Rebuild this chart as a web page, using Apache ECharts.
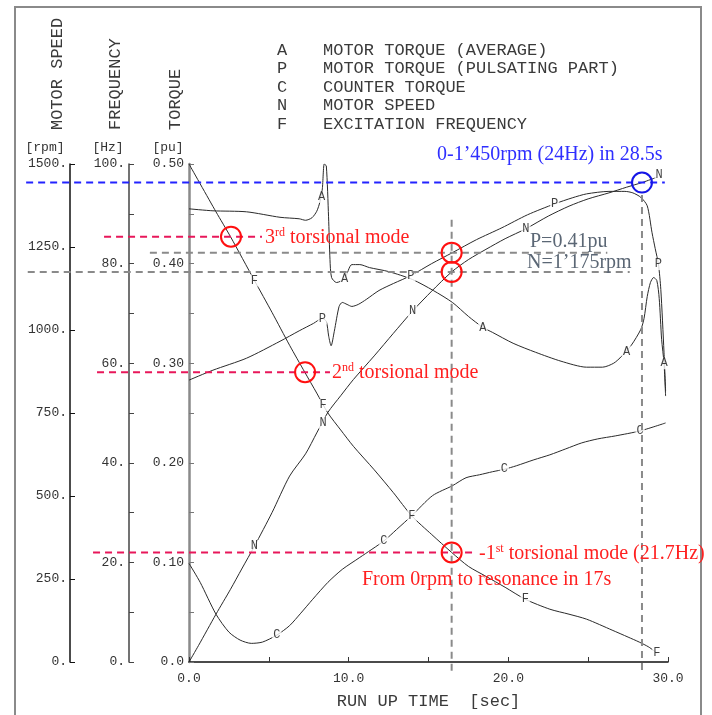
<!DOCTYPE html>
<html><head><meta charset="utf-8">
<script src="https://cdn.jsdelivr.net/npm/echarts@6/dist/echarts.min.js"></script>
<style>html,body{margin:0;padding:0;background:#fff}#c{width:712px;height:715px}</style>
</head><body><div id="c"></div>
<script>
// ---------------- data ----------------
// A: motor torque (average) [pu]
const aTime   = [0, 1.5, 3.6, 5.7, 6.9, 7.3, 7.7, 8.0, 8.2, 8.35, 8.47, 8.6, 8.74, 8.83, 8.93, 9.24, 9.75, 10.2, 10.7, 11.3, 12.5, 14.0, 15.3, 16.5, 17.5, 18.4, 19.0, 20.3, 21.7, 23.3, 24.9, 25.9, 26.6, 27.1, 27.7, 28.3, 28.5, 28.7, 28.9, 29.1, 29.3, 29.45, 29.6, 29.75, 29.85];
const aTorque = [0.455, 0.453, 0.452, 0.4465, 0.445, 0.4435, 0.446, 0.4525, 0.462, 0.475, 0.50, 0.498, 0.447, 0.404, 0.386, 0.381, 0.385, 0.399, 0.399, 0.396, 0.392, 0.384, 0.373, 0.361, 0.347, 0.336, 0.331, 0.320, 0.311, 0.302, 0.296, 0.296, 0.300, 0.307, 0.318, 0.334, 0.345, 0.367, 0.381, 0.386, 0.383, 0.365, 0.324, 0.300, 0.267];
// P: motor torque (pulsating part) [pu]
const pTime   = [0, 1.5, 3.6, 5.7, 6.9, 7.8, 8.35, 8.6, 8.75, 8.9, 9.1, 9.4, 9.6, 9.9, 10.2, 10.6, 11.1, 11.9, 12.8, 13.9, 15.2, 16.5, 18.0, 19.6, 21.2, 22.9, 24.0, 24.9, 26.3, 27.3, 27.8, 28.3, 28.7, 29.0, 29.2, 29.4, 29.55, 29.75, 29.85];
const pTorque = [0.283, 0.293, 0.305, 0.322, 0.3325, 0.340, 0.345, 0.342, 0.327, 0.3175, 0.332, 0.357, 0.361, 0.359, 0.357, 0.359, 0.364, 0.373, 0.380, 0.388, 0.400, 0.411, 0.424, 0.436, 0.449, 0.460, 0.466, 0.470, 0.4725, 0.4725, 0.471, 0.4665, 0.458, 0.431, 0.415, 0.3995, 0.374, 0.311, 0.272];
// C: counter torque [pu]
const cTime   = [0, 0.7, 1.69, 2.5, 3.2, 3.9, 4.6, 5.5, 6.3, 7.0, 7.75, 8.7, 9.6, 10.7, 12.2, 13.0, 13.96, 15.25, 16.5, 17.35, 18.2, 19.0, 19.75, 20.5, 21.6, 22.6, 23.6, 24.6, 25.6, 26.7, 28.25, 29.85];
const cTorque = [0.099, 0.080, 0.048, 0.030, 0.022, 0.0187, 0.020, 0.027, 0.0365, 0.049, 0.063, 0.080, 0.093, 0.105, 0.1215, 0.133, 0.147, 0.167, 0.177, 0.185, 0.188, 0.191, 0.1935, 0.197, 0.203, 0.208, 0.214, 0.220, 0.224, 0.227, 0.232, 0.240];
// N: motor speed [rpm]
const nTime   = [0, 0.6, 1.69, 2.6, 3.3, 4.1, 5.2, 6.3, 7.3, 8.0, 8.7, 9.5, 10.3, 11.6, 12.8, 14.0, 15.2, 16.45, 17.5, 18.6, 19.8, 21.1, 22.5, 23.8, 25.0, 26.3, 27.4, 28.37, 28.9, 29.3];
const nSpeed  = [0, 50, 144, 219, 280, 349, 450, 560, 627, 690, 752, 802, 851, 922, 990, 1057, 1117, 1175, 1212, 1243, 1275, 1305, 1343, 1373, 1395, 1413, 1430, 1444, 1453, 1460];
// F: excitation frequency [Hz]
const fTime   = [0, 1.69, 2.6, 4.1, 5.2, 6.3, 7.25, 8.0, 8.7, 9.5, 10.3, 11.6, 12.8, 13.96, 15.2, 16.45, 17.5, 18.6, 19.8, 21.06, 22.6, 23.8, 24.9, 26.5, 27.5, 28.2, 28.8, 29.3];
const fFreq   = [100, 90.4, 85.4, 76.6, 70.2, 63.6, 58.2, 54.0, 50.0, 46.6, 43.3, 38.6, 34.0, 29.3, 25.6, 22.0, 19.2, 17.2, 15.0, 12.6, 10.6, 9.6, 8.6, 6.4, 5.0, 4.0, 3.0, 1.8];

// curve letter markers [time, value]
const labA = [[8.3, 0.467], [9.75, 0.385], [18.4, 0.336], [27.4, 0.311], [29.75, 0.300]];
const labP = [[8.35, 0.345], [13.9, 0.388], [22.9, 0.460], [29.4, 0.3995]];
const labC = [[5.5, 0.027], [12.2, 0.1215], [19.75, 0.1935], [28.25, 0.232]];
const labN = [[4.1, 349], [8.4, 721], [14.0, 1057], [21.1, 1305], [29.45, 1466]];
const labF = [[4.1, 76.6], [8.4, 51.6], [13.96, 29.3], [21.06, 12.6], [29.3, 1.8]];

// tick labels
const timeTicks = [0, 10, 20, 30];
const timeTickLabels = ['0.0', '10.0', '20.0', '30.0'];
const torqueTicks = [0, 0.1, 0.2, 0.3, 0.4, 0.5];
const torqueTickLabels = ['0.0', '0.10', '0.20', '0.30', '0.40', '0.50'];
const freqTicks = [0, 20, 40, 60, 80, 100];
const freqTickLabels = ['0.', '20.', '40.', '60.', '80.', '100.'];
const speedTicks = [0, 250, 500, 750, 1000, 1250, 1500];
const speedTickLabels = ['0.', '250.', '500.', '750.', '1000.', '1250.', '1500.'];

// legend
const legendKeys = ['A', 'P', 'C', 'N', 'F'];
const legendNames = ['MOTOR TORQUE (AVERAGE)', 'MOTOR TORQUE (PULSATING PART)', 'COUNTER TORQUE', 'MOTOR SPEED', 'EXCITATION FREQUENCY'];

// annotations
const modeFreq = [85.4, 58.2, 22.0];     // 3rd, 2nd, 1st torsional mode [Hz]
const modeTime = [2.63, 7.27, 16.45];    // crossing time of F curve [s]
const resTime = 16.45, resTorque = 0.411, resSpeed = 1175;
const endTime = 28.37, endSpeed = 1444;

// ---------------- chart ----------------
const zip = (a, b) => a.map((t, i) => [t, b[i]]);
const lookup = (ticks, labels) => v => {
  for (let i = 0; i < ticks.length; i++) if (Math.abs(v - ticks[i]) < 1e-6) return labels[i];
  return '';
};
const MONO = '"Liberation Mono", "DejaVu Sans Mono", monospace';
const SERIF = '"Liberation Serif", "DejaVu Serif", serif';
const lineCol = '#2a2a2a';

const chart = echarts.init(document.getElementById('c'), null, {renderer: 'canvas'});

function curve(name, data, yi) {
  return {name, type: 'line', yAxisIndex: yi, data, symbol: 'none', smooth: 0.25,
    lineStyle: {color: lineCol, width: 1}, silent: true, z: 2, animation: false};
}
function letters(ch, data, yi) {
  return {type: 'scatter', yAxisIndex: yi, data, symbolSize: 2, itemStyle: {color: 'rgba(255,255,255,0)'},
    silent: true, z: 5, animation: false,
    label: {show: true, position: 'inside', formatter: ch, fontFamily: MONO, fontSize: 12,
      color: '#111', backgroundColor: '#fff', padding: [0, 1]}};
}
const tickLab = {fontFamily: MONO, fontSize: 13, color: '#333'};

chart.setOption({
  animation: false,
  grid: {left: 189, right: 44, top: 164, bottom: 52},
  xAxis: {type: 'value', min: 0, max: 30, interval: 5,
    name: 'RUN UP TIME  [sec]', nameLocation: 'middle', nameGap: 31,
    nameTextStyle: {fontFamily: MONO, fontSize: 17, color: '#3a3a3a'},
    axisLine: {lineStyle: {color: '#111', width: 1.5}},
    axisTick: {inside: true, length: 5, lineStyle: {color: '#333'}},
    axisLabel: Object.assign({formatter: lookup(timeTicks, timeTickLabels), margin: 10}, tickLab),
    splitLine: {show: false}},
  yAxis: [
    {type: 'value', min: 0, max: 0.5, interval: 0.05, position: 'left', offset: 0,
      axisLine: {show: true, lineStyle: {color: '#8a8a8a', width: 2.5}},
      axisTick: {show: true, inside: true, length: 5, lineStyle: {color: '#777'}},
      axisLabel: Object.assign({formatter: lookup(torqueTicks, torqueTickLabels), margin: 5}, tickLab),
      splitLine: {show: false}},
    {type: 'value', min: 0, max: 100, interval: 10, position: 'left', offset: 60,
      axisLine: {show: true, lineStyle: {color: '#444', width: 1.5}},
      axisTick: {show: true, inside: true, length: 5, lineStyle: {color: '#444'}},
      axisLabel: Object.assign({formatter: lookup(freqTicks, freqTickLabels), margin: 4}, tickLab),
      splitLine: {show: false}},
    {type: 'value', min: 0, max: 1500, interval: 250, position: 'left', offset: 119,
      axisLine: {show: true, lineStyle: {color: '#111', width: 1.5}},
      axisTick: {show: true, inside: true, length: 5, lineStyle: {color: '#111'}},
      axisLabel: Object.assign({formatter: lookup(speedTicks, speedTickLabels), margin: 3}, tickLab),
      splitLine: {show: false}}
  ],
  series: [
    curve('A', zip(aTime, aTorque), 0),
    curve('P', zip(pTime, pTorque), 0),
    curve('C', zip(cTime, cTorque), 0),
    curve('N', zip(nTime, nSpeed), 2),
    curve('F', zip(fTime, fFreq), 1),
    letters('A', labA, 0), letters('P', labP, 0), letters('C', labC, 0),
    letters('N', labN, 2), letters('F', labF, 1)
  ]
});

// ---------------- annotations positioned through the axes ----------------
const X = t => chart.convertToPixel({xAxisIndex: 0}, t);
const YT = v => chart.convertToPixel({yAxisIndex: 0}, v);
const YF = v => chart.convertToPixel({yAxisIndex: 1}, v);
const YN = v => chart.convertToPixel({yAxisIndex: 2}, v);

const G = [];
const line = (x1, y1, x2, y2, color) => G.push({type: 'line', silent: true, z: 20,
  shape: {x1, y1, x2, y2}, style: {stroke: color, lineWidth: 2, lineDash: [7, 5]}});
const circle = (cx, cy, color) => G.push({type: 'circle', silent: true, z: 21,
  shape: {cx, cy, r: 10}, style: {fill: 'none', stroke: color, lineWidth: 2}});
const text = (x, y, str, font, color, align, extra) => G.push(Object.assign({type: 'text', silent: true, z: 22,
  x, y, style: {text: str, font, fill: color, align: align || 'left', verticalAlign: 'middle'}}, extra || {}));

// outer frame
G.push({type: 'rect', silent: true, z: 0, shape: {x: 15, y: 7, width: 686, height: 730},
  style: {fill: 'none', stroke: '#8a8a8a', lineWidth: 2}});

// axis titles (vertical) and units
[['MOTOR SPEED', 57], ['FREQUENCY', 115], ['TORQUE', 175]].forEach(([s, x]) =>
  text(x, 130, s, '17px ' + MONO, '#3a3a3a', 'left', {rotation: Math.PI / 2}));
[['[rpm]', 45], ['[Hz]', 108], ['[pu]', 168]].forEach(([s, x]) =>
  text(x, 148, s, '13px ' + MONO, '#333', 'center'));

// legend block
legendKeys.forEach((k, i) => {
  const y = 50 + i * 18.5;
  text(282, y, k, '17px ' + MONO, '#3a3a3a', 'center');
  text(323, y, legendNames[i], '17px ' + MONO, '#3a3a3a', 'left');
});

// blue: full speed
const yEnd = YN(endSpeed);
line(X(-10.2), yEnd, X(29.8), yEnd, '#2323ff');
circle(X(endTime), yEnd, '#1515e6');
text(437, 155, '0-1\u2019450rpm (24Hz) in 28.5s', '20px ' + SERIF, '#2f2fff');

// grey: resonance point
const xRes = X(resTime), xEnd = X(endTime);
line(xRes, YT(0.444), xRes, YT(-0.013), '#8a8a8a');
line(xEnd, YT(0.469), xEnd, YT(-0.013), '#8a8a8a');
line(X(-2.45), YT(resTorque), X(26.2), YT(resTorque), '#8a8a8a');
line(X(-10.1), YN(resSpeed), X(27.6), YN(resSpeed), '#8a8a8a');
circle(xRes, YT(resTorque), '#ff1010');
circle(xRes, YN(resSpeed), '#ff1010');
text(530, 242, 'P=0.41pu', '20px ' + SERIF, '#5b6775');
text(527, 263, 'N=1\u2019175rpm', '20px ' + SERIF, '#5b6775');

// red: torsional modes
const modeStart = [-5.32, -5.76, -6.01], modeEnd = [4.57, 8.83, 17.85];
const rich = {n: {fontSize: 20, fontFamily: SERIF, fill: '#ff2020', lineHeight: 22},
              s: {fontSize: 12, fontFamily: SERIF, fill: '#ff2020', lineHeight: 22, verticalAlign: 'top'}};
const modeText = ['{n|3}{s|rd}{n| torsional mode}', '{n|2}{s|nd}{n| torsional mode}', '{n|-1}{s|st}{n| torsional mode (21.7Hz)}'];
const modeTextX = [265, 332, 479];
modeFreq.forEach((f, i) => {
  const y = YF(f);
  line(X(modeStart[i]), y, X(modeEnd[i]), y, '#e8175a');
  circle(X(modeTime[i]), y, '#ff1010');
  G.push({type: 'text', silent: true, z: 22, x: modeTextX[i], y: y + 1,
    style: {text: modeText[i], rich, font: '20px ' + SERIF, fill: '#ff2020', align: 'left', verticalAlign: 'middle'}});
});
text(362, 580, 'From 0rpm to resonance in 17s', '20px ' + SERIF, '#ff2020');

chart.setOption({graphic: G});
</script></body></html>
